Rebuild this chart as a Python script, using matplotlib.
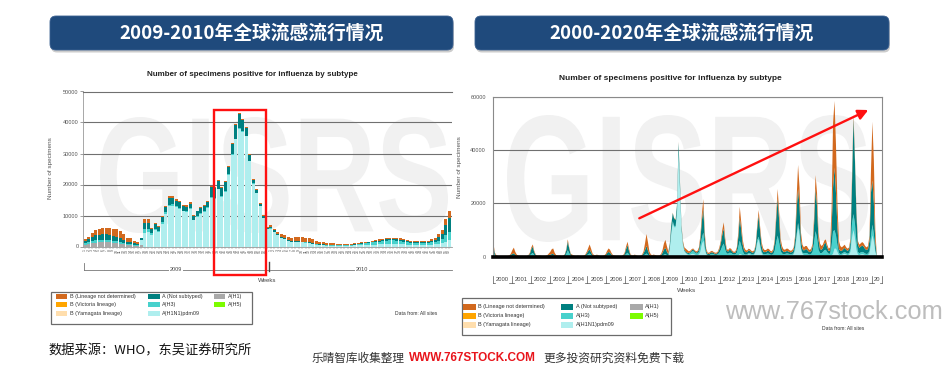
import numpy as np
import matplotlib
matplotlib.use("Agg")
import matplotlib.pyplot as plt
from matplotlib.patches import FancyBboxPatch, Rectangle, PathPatch, FancyArrowPatch
from matplotlib.lines import Line2D
from matplotlib.textpath import TextPath
from matplotlib.font_manager import FontProperties
from matplotlib.path import Path

# ------------------------------------------------------------------ data
# Left chart: weekly positives (thousands), 2009 wk1-53 then 2010 wk1-52
weeks_2009 = list(range(1, 54))
weeks_2010 = list(range(1, 53))

left_h1 = ([0.6, 0.8, 1.0, 1.2, 1.3, 1.4, 1.4, 1.3, 1.2, 1.1, 0.9, 0.7, 0.5, 0.5, 0.3, 0.3, 0.5]
           + [0] * 36 + [0] * 52)
left_pdm = ([0] * 16 + [1.5]
            + [4.5, 4.8, 3.8, 5.2, 4.6, 7.4, 10.5, 13.0, 13.2, 12.6, 12.2, 11.3, 11.2, 12.0, 8.4, 9.6,
               10.5, 11.1, 12.5, 15.8, 15.4, 18.5, 16.0, 17.6, 23.2, 29.5, 34.6, 38.0, 37.0, 35.5,
               27.5, 20.3, 17.2, 13.0, 9.2, 5.6]
            + [5.8, 4.7, 3.6, 2.8, 2.4, 1.8, 1.5, 1.5, 1.4, 1.3, 1.2, 1.0, 0.8, 0.6, 0.5, 0.4, 0.3,
               0.3, 0.3, 0.3, 0.3, 0.3, 0.3, 0.3, 0.4, 0.4, 0.5, 0.5, 0.5, 0.6, 0.6, 0.7, 0.7, 0.8,
               0.8, 0.8, 0.8, 0.7, 0.7, 0.6, 0.5, 0.5, 0.5, 0.5, 0.5, 0.5, 0.6, 0.7, 0.9, 1.1, 1.6, 2.0])
left_h3 = ([0.4, 0.5, 0.7, 0.8, 0.8, 0.8, 0.8, 0.8, 0.7, 0.7, 0.6, 0.5, 0.4, 0.4, 0.3, 0.2, 0.2]
           + [1.2, 1.0, 0.6, 0.6, 0.5, 0.5, 0.5, 0.5, 0.4, 0.4, 0.3, 0.3, 0.3, 0.3, 0.2, 0.2, 0.2,
              0.2, 0.2, 0.2, 0.2, 0.2, 0.2, 0.2, 0.2, 0.2, 0.2, 0.2, 0.2, 0.2, 0.2, 0.1, 0.1, 0.1,
              0.1, 0.1]
           + [0.1, 0.1, 0.1, 0.1, 0.1, 0.1, 0.1, 0.1, 0.1, 0.1, 0.1, 0.1, 0.1, 0.1, 0.1, 0.1, 0.1,
              0.1, 0.1, 0.1, 0.1, 0.1, 0.1, 0.1, 0.2, 0.3, 0.4, 0.5, 0.6, 0.7, 0.8, 0.9, 1.0, 1.1,
              1.2, 1.2, 1.1, 1.0, 0.9, 0.8, 0.7, 0.7, 0.6, 0.6, 0.6, 0.6, 0.7, 0.8, 1.0, 1.3, 2.2, 2.8])
left_ans = ([0.8, 1.0, 1.3, 1.6, 1.6, 1.7, 1.7, 1.6, 1.5, 1.3, 1.1, 0.8, 0.6, 0.5, 0.4, 0.3, 0.4]
            + [1.8, 1.8, 1.1, 1.3, 1.2, 1.5, 1.7, 2.3, 2.2, 1.8, 1.7, 1.5, 1.4, 1.5, 1.2, 1.5, 1.7,
               1.7, 1.8, 3.2, 3.2, 2.5, 2.6, 3.0, 2.3, 3.5, 4.5, 4.5, 3.6, 2.6, 1.9, 1.2, 0.9, 0.7,
               0.5, 0.3]
            + [0.5, 0.4, 0.3, 0.3, 0.2, 0.2, 0.2, 0.2, 0.2, 0.2, 0.2, 0.2, 0.2, 0.2, 0.2, 0.2, 0.2,
               0.2, 0.2, 0.1, 0.1, 0.1, 0.1, 0.1, 0.1, 0.1, 0.1, 0.2, 0.2, 0.2, 0.3, 0.3, 0.4, 0.4,
               0.5, 0.5, 0.5, 0.5, 0.4, 0.4, 0.4, 0.3, 0.3, 0.3, 0.3, 0.4, 0.5, 0.7, 1.1, 1.7, 3.2, 4.4])
left_b = ([0.6, 0.8, 1.2, 1.7, 1.9, 2.1, 2.2, 2.3, 2.4, 2.4, 2.3, 1.9, 1.4, 1.4, 0.9, 0.7, 0.2]
          + [1.3, 1.2, 0.5, 0.5, 0.4, 0.4, 0.4, 0.4, 0.4, 0.4, 0.4, 0.4, 0.4, 0.4, 0.3, 0.3, 0.3,
             0.3, 0.3, 0.3, 0.3, 0.3, 0.3, 0.3, 0.3, 0.3, 0.3, 0.3, 0.3, 0.3, 0.3, 0.3, 0.3, 0.3,
             0.3, 0.3]
          + [0.5, 0.6, 0.7, 0.8, 1.0, 1.0, 1.1, 1.2, 1.3, 1.4, 1.4, 1.3, 1.2, 1.0, 0.8, 0.7, 0.6,
             0.5, 0.4, 0.4, 0.3, 0.4, 0.4, 0.3, 0.3, 0.3, 0.3, 0.3, 0.3, 0.3, 0.3, 0.4, 0.4, 0.4,
             0.4, 0.4, 0.4, 0.4, 0.4, 0.4, 0.3, 0.3, 0.3, 0.3, 0.4, 0.4, 0.5, 0.6, 0.9, 1.2, 1.8, 2.2])

# Right chart: 4-weekly positives (thousands), 13 periods per year 2000-2019, 8 in 2020
right_pdm = ([0] * 13 * 9 +
    [0, 0, 0, 0, 2.8, 8.5, 12.5, 11.0, 11.0, 17.0, 39.0, 25.0, 10.3] +      # 2009
    [4.5, 2.0, 1.3, 0.8, 0.6, 0.7, 1.0, 1.1, 0.8, 0.6, 0.6, 0.8, 1.8] +     # 2010
    [4.5, 6.0, 2.5, 0.8, 0.4, 0.3, 0.4, 0.5, 0.4, 0.3, 0.3, 0.4, 0.6] +     # 2011
    [0.3, 0.3, 0.3, 0.2, 0.2, 0.2, 0.3, 0.3, 0.2, 0.2, 0.2, 0.3, 0.4] +     # 2012
    [1.0, 0.8, 0.5, 0.3, 0.3, 0.5, 0.9, 0.8, 0.6, 0.5, 0.8, 2.0, 5.0] +     # 2013
    [6.5, 3.5, 1.2, 0.5, 0.4, 0.4, 0.4, 0.3, 0.2, 0.2, 0.2, 0.3, 0.4] +     # 2014
    [0.4, 0.3, 0.3, 0.3, 0.3, 0.4, 0.5, 0.5, 0.4, 0.4, 0.5, 0.9, 2.5] +     # 2015
    [7.0, 11.0, 8.0, 2.5, 1.0, 0.6, 0.6, 0.6, 0.4, 0.3, 0.3, 0.4, 0.6] +    # 2016
    [0.6, 0.5, 0.4, 0.3, 0.3, 0.3, 0.4, 0.4, 0.3, 0.3, 0.3, 0.5, 1.0] +     # 2017
    [3.0, 3.0, 1.7, 0.6, 0.5, 0.6, 0.9, 1.1, 0.8, 0.6, 0.8, 1.8, 7.0] +     # 2018
    [10.0, 7.0, 2.5, 0.8, 0.6, 0.8, 0.9, 0.8, 0.6, 0.5, 0.6, 1.2, 4.5] +    # 2019
    [8.0, 5.5, 1.5, 0.1, 0, 0, 0, 0])                                      # 2020
right_h3 = (
    [1.5, 0.4, 0.1, 0.1, 0, 0, 0, 0, 0, 0, 0.1, 0.1, 0.3] +                 # 2000
    [0.3, 0.4, 0.2, 0.1, 0.1, 0, 0, 0, 0, 0, 0.1, 0.2, 0.5] +               # 2001
    [1.0, 1.4, 0.6, 0.2, 0.1, 0.1, 0.1, 0.1, 0, 0, 0.1, 0.1, 0.3] +         # 2002
    [0.3, 0.4, 0.4, 0.2, 0.1, 0.1, 0.1, 0.1, 0.1, 0.1, 0.3, 1.0, 2.4] +     # 2003
    [1.3, 0.4, 0.2, 0.1, 0.1, 0.1, 0.1, 0.1, 0.1, 0.1, 0.1, 0.2, 0.5] +     # 2004
    [0.9, 1.2, 0.7, 0.3, 0.1, 0.1, 0.2, 0.1, 0.1, 0.1, 0.1, 0.1, 0.2] +     # 2005
    [0.5, 0.7, 0.6, 0.3, 0.1, 0.1, 0.1, 0.1, 0.1, 0, 0.1, 0.2, 0.4] +       # 2006
    [1.0, 1.5, 0.8, 0.3, 0.1, 0.1, 0.2, 0.1, 0.1, 0.1, 0.1, 0.2, 0.5] +     # 2007
    [0.8, 1.2, 0.7, 0.2, 0.1, 0.1, 0.2, 0.1, 0.1, 0.1, 0.1, 0.2, 0.4] +     # 2008
    [0.8, 1.0, 0.6, 0.3, 0.4, 0.6, 0.8, 0.6, 0.4, 0.3, 0.3, 0.2, 0.2] +     # 2009
    [0.2, 0.2, 0.2, 0.3, 0.4, 0.6, 0.9, 1.0, 0.8, 0.6, 0.6, 1.0, 2.2] +     # 2010
    [2.5, 3.0, 1.3, 0.4, 0.2, 0.3, 0.5, 0.6, 0.5, 0.4, 0.4, 0.5, 0.9] +     # 2011
    [2.2, 3.6, 4.6, 2.4, 1.0, 0.9, 1.2, 1.1, 0.8, 0.6, 0.7, 1.2, 3.2] +     # 2012
    [5.0, 3.3, 1.5, 0.7, 0.5, 0.4, 0.5, 0.5, 0.4, 0.4, 0.4, 0.6, 1.2] +     # 2013
    [1.0, 0.9, 0.7, 0.5, 0.5, 0.6, 0.8, 0.8, 0.6, 0.5, 0.8, 2.0, 5.0] +     # 2014
    [7.5, 4.9, 1.8, 0.9, 0.6, 0.6, 0.7, 0.7, 0.6, 0.5, 0.5, 0.6, 1.2] +     # 2015
    [1.2, 1.6, 1.4, 0.7, 0.5, 0.6, 0.8, 0.8, 0.6, 0.5, 0.7, 1.5, 4.6] +     # 2016
    [9.0, 6.5, 2.2, 1.1, 1.0, 1.4, 2.0, 2.2, 1.4, 0.8, 0.8, 3.5, 8.5] +     # 2017
    [7.0, 5.0, 2.5, 0.8, 0.5, 0.5, 0.6, 0.7, 0.6, 0.5, 0.6, 1.2, 5.5] +     # 2018
    [6.0, 5.5, 3.2, 1.0, 0.7, 0.8, 0.9, 0.8, 0.6, 0.5, 0.6, 1.0, 3.0] +     # 2019
    [4.0, 2.8, 0.8, 0.1, 0, 0, 0, 0])                                      # 2020
right_ans = (
    [2.5, 0.7, 0.2, 0.1, 0.1, 0.1, 0.1, 0.1, 0.1, 0.1, 0.1, 0.2, 0.5] +     # 2000
    [0.7, 0.9, 0.5, 0.2, 0.1, 0.1, 0.1, 0.1, 0.1, 0.1, 0.1, 0.2, 0.6] +     # 2001
    [1.8, 2.4, 1.1, 0.4, 0.2, 0.2, 0.2, 0.1, 0.1, 0.1, 0.1, 0.2, 0.4] +     # 2002
    [0.4, 0.6, 0.7, 0.3, 0.1, 0.1, 0.1, 0.1, 0.1, 0.2, 0.5, 1.4, 3.3] +     # 2003
    [1.8, 0.5, 0.3, 0.2, 0.1, 0.1, 0.2, 0.1, 0.1, 0.1, 0.2, 0.3, 0.7] +     # 2004
    [1.2, 1.5, 0.9, 0.3, 0.2, 0.2, 0.3, 0.2, 0.1, 0.1, 0.1, 0.2, 0.4] +     # 2005
    [0.8, 1.1, 0.9, 0.5, 0.2, 0.1, 0.1, 0.1, 0.1, 0.1, 0.1, 0.2, 0.6] +     # 2006
    [1.8, 2.8, 1.4, 0.4, 0.2, 0.2, 0.4, 0.2, 0.1, 0.1, 0.2, 0.3, 0.8] +     # 2007
    [1.7, 2.8, 1.6, 0.5, 0.2, 0.2, 0.3, 0.2, 0.1, 0.1, 0.2, 0.4, 1.0] +     # 2008
    [1.9, 2.3, 1.3, 0.6, 1.5, 2.6, 3.0, 2.7, 2.4, 2.4, 3.5, 2.5, 1.2] +     # 2009
    [0.7, 0.5, 0.4, 0.4, 0.4, 0.4, 0.5, 0.6, 0.5, 0.4, 0.5, 0.9, 2.6] +     # 2010
    [6.5, 9.0, 3.5, 0.9, 0.4, 0.4, 0.6, 0.6, 0.5, 0.4, 0.4, 0.6, 1.2] +     # 2011
    [2.5, 4.3, 5.6, 2.9, 1.1, 0.8, 1.1, 1.0, 0.7, 0.6, 0.6, 1.2, 3.8] +     # 2012
    [8.7, 5.9, 2.6, 1.3, 0.9, 0.8, 1.0, 0.9, 0.7, 0.6, 0.8, 1.7, 4.5] +     # 2013
    [8.0, 5.0, 2.2, 1.0, 0.8, 0.8, 1.0, 1.0, 0.8, 0.7, 1.3, 3.2, 8.6] +     # 2014
    [14.0, 8.6, 2.9, 1.4, 0.9, 0.8, 0.9, 0.9, 0.8, 0.7, 0.8, 1.2, 3.0] +    # 2015
    [9.3, 12.8, 9.6, 3.0, 1.4, 1.1, 1.4, 1.4, 1.1, 0.9, 1.1, 2.0, 7.2] +    # 2016
    [16.0, 12.0, 3.8, 1.6, 1.2, 1.6, 2.4, 2.6, 1.7, 1.0, 1.2, 6.5, 16.5] +  # 2017
    [23.4, 16.0, 6.8, 1.6, 1.2, 1.1, 1.3, 1.5, 1.2, 1.1, 1.3, 2.8, 14.5] +  # 2018
    [35.9, 24.0, 10.8, 3.0, 2.0, 2.2, 2.4, 2.2, 1.7, 1.5, 1.7, 3.8, 16.5] + # 2019
    [16.6, 11.7, 3.2, 0.1, 0, 0, 0, 0])                                    # 2020
right_b = (
    [1.0, 0.4, 0.3, 0.1, 0.1, 0.1, 0.1, 0.1, 0.1, 0.1, 0.1, 0.2, 0.4] +     # 2000
    [1.5, 2.1, 1.1, 0.5, 0.2, 0.2, 0.2, 0.2, 0.1, 0.1, 0.1, 0.2, 0.4] +     # 2001
    [0.7, 0.8, 0.5, 0.2, 0.1, 0.1, 0.1, 0.1, 0.1, 0.1, 0.1, 0.3, 0.5] +     # 2002
    [1.1, 1.8, 2.0, 1.0, 0.4, 0.2, 0.2, 0.2, 0.1, 0.1, 0.2, 0.4, 0.8] +     # 2003
    [0.4, 0.3, 0.3, 0.2, 0.1, 0.1, 0.1, 0.1, 0.1, 0.1, 0.1, 0.3, 0.6] +     # 2004
    [1.1, 1.9, 1.4, 0.6, 0.3, 0.2, 0.3, 0.2, 0.1, 0.1, 0.1, 0.2, 0.4] +     # 2005
    [0.9, 1.3, 1.1, 0.6, 0.3, 0.2, 0.1, 0.1, 0.1, 0.1, 0.1, 0.2, 0.5] +     # 2006
    [1.0, 1.3, 0.8, 0.3, 0.2, 0.2, 0.2, 0.2, 0.1, 0.1, 0.1, 0.3, 0.7] +     # 2007
    [2.5, 4.5, 3.2, 1.3, 0.5, 0.3, 0.3, 0.3, 0.2, 0.2, 0.2, 0.4, 1.1] +     # 2008
    [2.3, 3.0, 2.1, 1.1, 0.3, 0.3, 0.2, 0.2, 0.2, 0.3, 0.3, 0.3, 0.3] +     # 2009
    [0.6, 0.8, 1.1, 1.0, 0.6, 0.5, 0.4, 0.4, 0.4, 0.4, 0.5, 0.8, 1.4] +     # 2010
    [2.5, 3.6, 1.7, 0.9, 0.5, 0.5, 0.5, 0.5, 0.4, 0.4, 0.4, 0.5, 0.8] +     # 2011
    [1.0, 1.8, 2.4, 1.5, 0.7, 0.6, 0.6, 0.6, 0.5, 0.4, 0.5, 0.8, 1.6] +     # 2012
    [4.0, 3.0, 1.9, 1.2, 0.8, 0.6, 0.6, 0.6, 0.5, 0.5, 0.5, 0.7, 1.3] +     # 2013
    [2.0, 1.6, 1.4, 1.2, 0.8, 0.7, 0.8, 0.8, 0.6, 0.6, 0.7, 1.0, 2.0] +     # 2014
    [3.5, 3.2, 2.0, 1.4, 1.0, 0.8, 0.9, 0.9, 0.7, 0.6, 0.7, 0.8, 1.3] +     # 2015
    [4.5, 9.0, 7.0, 2.8, 1.6, 1.2, 1.2, 1.2, 0.9, 0.8, 0.9, 1.1, 2.6] +     # 2016
    [5.0, 5.0, 2.6, 2.0, 1.5, 1.2, 1.2, 1.3, 1.1, 0.9, 1.2, 7.5, 24.0] +    # 2017
    [25.0, 18.0, 9.0, 3.0, 1.8, 1.3, 1.2, 1.2, 0.9, 0.8, 0.8, 1.2, 3.0] +   # 2018
    [1.5, 1.5, 1.5, 1.2, 1.2, 1.2, 1.3, 1.2, 1.1, 1.0, 1.1, 2.0, 8.0] +     # 2019
    [22.0, 16.0, 4.5, 0.2, 0, 0, 0, 0])                                    # 2020
right_years = list(range(2000, 2020))

legend_labels = [["B (Lineage not determined)", "B (Victoria lineage)", "B (Yamagata lineage)"],
                 ["A (Not subtyped)", "A(H3)", "A(H1N1)pdm09"],
                 ["A(H1)", "A(H5)"]]

# ------------------------------------------------------------------ styling
C_BND, C_BVIC, C_BYAM = "#D2691E", "#FFA500", "#FFDEAD"
C_ANS, C_H3, C_PDM = "#008080", "#48D1CC", "#AFEEEE"
C_H1, C_H5 = "#A9A9A9", "#7CFC00"
legend_colors = [[C_BND, C_BVIC, C_BYAM], [C_ANS, C_H3, C_PDM], [C_H1, C_H5]]

CJK = ["Noto Sans CJK SC", "DejaVu Sans"]
LAT = ["Liberation Sans", "DejaVu Sans"]

W, H = 945, 368
fig = plt.figure(figsize=(W / 100, H / 100), dpi=100)
fig.patch.set_facecolor("white")


def fx(x):
    return x / W


def fy(y):
    return 1 - y / H


def axes_px(l, t, r, b):
    return fig.add_axes([fx(l), fy(b), (r - l) / W, (b - t) / H])


def ftext(x, y, s, **kw):
    return fig.text(fx(x), fy(y), s, **kw)


def fline(xs, ys, **kw):
    fig.add_artist(Line2D([fx(v) for v in xs], [fy(v) for v in ys],
                          transform=fig.transFigure, **kw))


def frect(x0, y0, x1, y1, **kw):
    fig.add_artist(Rectangle((fx(x0), fy(y1)), (x1 - x0) / W, (y1 - y0) / H,
                             transform=fig.transFigure, **kw))


def watermark(x0, y0, x1, y1):
    fp = FontProperties(family="Liberation Sans", weight="bold")
    tp = TextPath((0, 0), "GISRS", size=100, prop=fp)
    ext = tp.get_extents()
    v = tp.vertices
    X = x0 + (v[:, 0] - ext.x0) * (x1 - x0) / ext.width
    Y = y1 - (v[:, 1] - ext.y0) * (y1 - y0) / ext.height
    p = Path(np.column_stack([X / W, 1 - Y / H]), tp.codes)
    fig.add_artist(PathPatch(p, transform=fig.transFigure, fc="#F1F1F1", ec="none", zorder=-1))


def banner(x0, x1, y0, y1, text):
    sh = FancyBboxPatch((x0 / 100 + 0.01, (H - y1) / 100 - 0.025), (x1 - x0) / 100, (y1 - y0) / 100,
                        boxstyle="round,pad=0,rounding_size=0.06", transform=fig.dpi_scale_trans,
                        fc="#9a9a9a", ec="none", alpha=0.5, zorder=1)
    fig.add_artist(sh)
    bx = FancyBboxPatch((x0 / 100, (H - y1) / 100), (x1 - x0) / 100, (y1 - y0) / 100,
                        boxstyle="round,pad=0,rounding_size=0.06", transform=fig.dpi_scale_trans,
                        fc="#1F4A7C", ec="#3B6090", lw=0.6, zorder=2)
    fig.add_artist(bx)
    ftext((x0 + x1) / 2, (y0 + y1) / 2 + 0.5, text, color="white", fontsize=13.5,
          fontweight="bold", family=CJK, ha="center", va="center", zorder=3)


def legend(box, rows_y, cols_x, pw, ph, fs):
    x0, y0, x1, y1 = box
    frect(x0, y0, x1, y1, fill=False, ec="#6b6b6b", lw=0.9)
    for cx, labs, cols in zip(cols_x, legend_labels, legend_colors):
        for lab, col, ry in zip(labs, cols, rows_y):
            frect(cx, ry - ph / 2, cx + pw, ry + ph / 2, fc=col, ec="none")
            ftext(cx + pw + 2.5, ry, lab, fontsize=fs, family=LAT, ha="left", va="center",
                  color="#333333")


# ------------------------------------------------------------------ banners
banner(50, 453, 16, 50, "2009-2010年全球流感流行情况")
banner(475, 889, 16, 50, "2000-2020年全球流感流行情况")

# ------------------------------------------------------------------ watermarks
watermark(100, 117, 448, 233)
watermark(507, 115, 868, 242)

# ------------------------------------------------------------------ left chart
aL_l, aL_t, aL_r, aL_b = 83.5, 91.5, 452, 246.5
axL = axes_px(aL_l, aL_t, aL_r, aL_b)
axL.set_facecolor("none")
xL = np.arange(len(left_pdm))
bottom = np.zeros(len(xL))
for vals, col in [(left_h1, C_H1), (left_pdm, C_PDM), (left_h3, C_H3),
                  (left_ans, C_ANS), (left_b, C_BND)]:
    v = np.array(vals, dtype=float) * 1000
    axL.bar(xL, v, bottom=bottom, width=0.72, color=col, linewidth=0, zorder=2)
    bottom += v
axL.set_xlim(-0.5, -0.5 + (aL_r - aL_l) / 3.5)
axL.set_ylim(0, 50000)
axL.set_yticks(range(0, 50001, 10000))
axL.set_yticklabels([str(v) for v in range(0, 50001, 10000)], fontsize=4, family=LAT, color="#555555")
axL.yaxis.grid(True, color="#707070", lw=0.8)
axL.set_axisbelow(True)
axL.set_xticks(xL)
axL.set_xticklabels([str(w) for w in weeks_2009] + [str(w) for w in weeks_2010],
                    rotation=90, fontsize=2.6, family=LAT, color="#555555")
axL.tick_params(axis="x", length=1.5, width=0.3, pad=0.6, colors="#777777")
axL.tick_params(axis="y", length=2, width=0.5, pad=1.5, colors="#777777")
for lab in axL.get_xticklabels() + axL.get_yticklabels():
    lab.set_color("#555555")
axL.spines["top"].set_color("#707070")
axL.spines["top"].set_linewidth(0.8)
axL.spines["right"].set_visible(False)
axL.spines["left"].set_color("#999999")
axL.spines["bottom"].set_color("#999999")
axL.spines["left"].set_linewidth(0.6)
axL.spines["bottom"].set_linewidth(0.6)

ftext(252, 75, "Number of specimens positive for influenza by subtype", fontsize=5.8,
      fontweight="bold", family=LAT, ha="center", va="center", color="#222222")
ftext(51, 168, "Number of specimens", fontsize=4.6, family=LAT, rotation=90,
      ha="center", va="center", color="#555555")

# year brackets (left)
fline([84, 84], [263, 270], color="#777777", lw=0.6)
fline([84, 268], [269.5, 269.5], color="#777777", lw=0.6)
fline([269, 269], [262, 271], color="#444444", lw=1.0)
fline([270, 452], [269.5, 269.5], color="#777777", lw=0.6)
ftext(176, 269.5, "2009", fontsize=4, family=LAT, ha="center", va="center", color="#444444",
      bbox=dict(fc="white", ec="none", pad=0.6))
ftext(362, 269.5, "2010", fontsize=4, family=LAT, ha="center", va="center", color="#444444",
      bbox=dict(fc="white", ec="none", pad=0.6))
ftext(267.5, 280.5, "Weeks", fontsize=4.4, family=LAT, ha="center", va="center", color="#444444")

# red highlight box
fig.add_artist(Rectangle((2.14, (H - 275) / 100), 0.52, 1.65, transform=fig.dpi_scale_trans,
                         fill=False, ec="#FF1010", lw=1.7, zorder=10))

legend((51, 292, 252, 324), [296.3, 304.8, 313.3], [56, 148.3, 214], 11.3, 5.3, 3.9)
ftext(416.5, 313.3, "Data from: All sites", fontsize=3.6, family=LAT, ha="center", va="center",
      color="#333333")

# ------------------------------------------------------------------ right chart
aR_l, aR_t, aR_r, aR_b = 492.7, 96.7, 882.3, 256.7
axR = axes_px(aR_l, aR_t, aR_r, aR_b)
axR.set_facecolor("none")
xR = 2000 + (np.arange(len(right_pdm)) + 0.5) / 13
axR.stackplot(xR, np.array(right_pdm) * 1000, np.array(right_h3) * 1000,
              np.array(right_ans) * 1000, np.array(right_b) * 1000,
              colors=[C_PDM, C_H3, C_ANS, C_BND], linewidth=0, zorder=2)
XMAX = 2020.56
axR.set_xlim(2000, XMAX)
axR.set_ylim(0, 60000)
axR.set_yticks([0, 20000, 40000, 60000])
axR.set_yticklabels(["0", "20000", "40000", "60000"], fontsize=4, family=LAT)
for lab in axR.get_yticklabels():
    lab.set_color("#555555")
axR.tick_params(axis="y", length=0, pad=5)
axR.set_xticks([])
axR.yaxis.grid(True, color="#707070", lw=0.8)
axR.set_axisbelow(True)
for s in ["top", "right", "left"]:
    axR.spines[s].set_color("#8a8a8a")
    axR.spines[s].set_linewidth(0.8)
axR.spines["bottom"].set_visible(False)
axR.axhline(0, color="black", lw=2.6, zorder=5, clip_on=False)

ftext(670, 78, "Number of specimens positive for influenza by subtype", fontsize=6,
      fontweight="bold", family=LAT, ha="center", va="center", color="#222222")
ftext(459.5, 167, "Number of specimens", fontsize=4.6, family=LAT, rotation=90,
      ha="center", va="center", color="#555555")


def rx(year):
    return aR_l + (year - 2000) * (aR_r - aR_l) / (XMAX - 2000)


for yr in right_years:
    ftext(rx(yr + 0.5), 279.5, str(yr), fontsize=4.2, family=LAT, ha="center", va="center",
          color="#444444")
ftext(rx((2020 + XMAX) / 2), 279.5, "20", fontsize=4.2, family=LAT, ha="center", va="center",
      color="#444444")
for yr in right_years[1:] + [2020]:
    px = rx(yr)
    fline([px, px], [275.5, 282.5], color="#555555", lw=0.5)
    fline([px - 2.2, px + 2.2], [282.5, 282.5], color="#555555", lw=0.5)
fline([aR_l, aR_l], [275.5, 282.5], color="#555555", lw=0.5)
fline([aR_l, aR_l + 2.5], [282.5, 282.5], color="#555555", lw=0.5)
fline([aR_r, aR_r], [275.5, 282.5], color="#555555", lw=0.5)
fline([aR_r - 2.5, aR_r], [282.5, 282.5], color="#555555", lw=0.5)
ftext(687, 290, "Weeks", fontsize=4.6, family=LAT, ha="center", va="center", color="#444444")

# red trend arrow
fig.add_artist(FancyArrowPatch((639.3 / 100, (H - 218.3) / 100), (868.3 / 100, (H - 110) / 100),
                               transform=fig.dpi_scale_trans, arrowstyle="-|>", mutation_scale=15,
                               lw=1.7, color="#FF1010", shrinkA=0, shrinkB=0, zorder=10))

legend((462, 298, 670.7, 335.3), [306.7, 315.7, 324.7], [463.5, 561, 630.3], 12.5, 6, 4.0)
ftext(843, 328.5, "Data from: All sites", fontsize=3.6, family=LAT, ha="center", va="center",
      color="#333333")

# ------------------------------------------------------------------ footer / watermark text
ftext(725, 319, "www.767stock.com", fontsize=18.4, family=LAT, ha="left", va="baseline",
      color="#BDBDBD", zorder=6)
ftext(48, 351, "数据来源：WHO，东吴证券研究所", fontsize=9.5, family=CJK, ha="left", va="center",
      color="#111111")
ftext(311.5, 358, "乐晴智库收集整理", fontsize=8.4, family=CJK, ha="left", va="center", color="#333333")
ftext(409, 358, "WWW.767STOCK.COM", fontsize=8.5, family=LAT, fontweight="bold", ha="left",
      va="center", color="#E8141B")
ftext(543, 358, "更多投资研究资料免费下载", fontsize=8.5, family=CJK, ha="left", va="center",
      color="#333333")

fig.savefig("out.png", dpi=100, facecolor="white")
